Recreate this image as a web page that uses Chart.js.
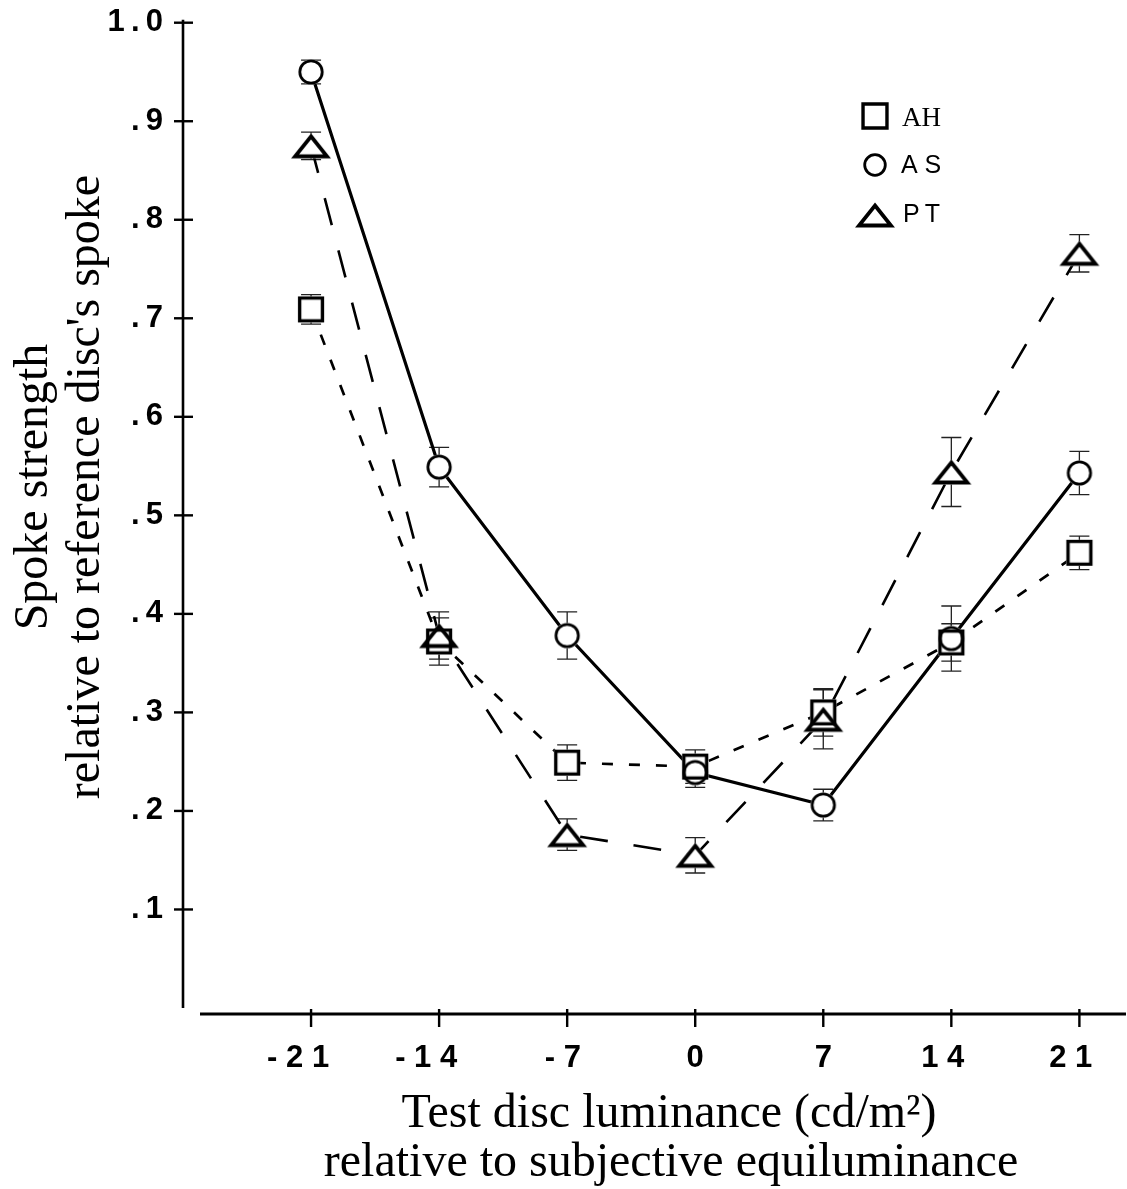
<!DOCTYPE html>
<html>
<head>
<meta charset="utf-8">
<script src="https://cdn.jsdelivr.net/npm/chart.js@4.4.0/dist/chart.umd.min.js"></script>
<style>
    html, body { margin: 0; padding: 0; background: #fff; }
    #wrap { width: 1127px; height: 1189px; position: relative; }
</style>
</head>
<body>
<div id="wrap"><canvas id="spokeChart"></canvas></div>
<script>
// Data
const xValues = [-21, -14, -7, 0, 7, 14, 21];
// trailing spaces reproduce the slightly left-shifted labels of the original
const xTickLabels = ['- 2 1   ', '- 1 4   ', '- 7 ', '0', '7', '1 4  ', '2 1  '];
const yTickValues = [0.1, 0.2, 0.3, 0.4, 0.5, 0.6, 0.7, 0.8, 0.9, 1.0];
const yTickLabels = ['.\u20091', '.\u20092', '.\u20093', '.\u20094', '.\u20095',
                     '.\u20096', '.\u20097', '.\u20098', '.\u20099', '1\u2009.\u20090'];

const ahValues = [0.709, 0.372, 0.249, 0.245, 0.300, 0.371, 0.462];
const ahErrors = [0.015, 0.024, 0.018, 0.017, 0.024, 0.019, 0.017];
const asValues = [0.950, 0.549, 0.378, 0.239, 0.206, 0.375, 0.543];
const asErrors = [0.012, 0.020, 0.024, 0.015, 0.016, 0.033, 0.022];
const ptValues = [0.875, 0.378, 0.176, 0.155, 0.293, 0.544, 0.766];
const ptErrors = [0.014, 0.024, 0.016, 0.018, 0.030, 0.035, 0.019];

const seriesNames = ['AH', 'AS', 'PT'];

const TICK_FONT = { family: "'Liberation Sans', Arial, sans-serif", size: 31, weight: 'bold' };
const SERIF = "'Liberation Serif', 'Times New Roman', serif";

function points(values) {
    return values.map((v, i) => ({ x: xValues[i], y: v }));
}

// marker images: 'fill' = white blanking shape, 'line' = black outline
function makeMarker(shape, mode, scale) {
    scale = scale || 1;
    const c = document.createElement('canvas');
    const w = shape === 'triangle' ? 44 : 32;
    const h = 32;
    c.width = w; c.height = h;
    const g = c.getContext('2d');
    g.lineJoin = 'miter';
    g.beginPath();
    if (shape === 'circle') {
        g.arc(w / 2, h / 2, 11.2 * scale, 0, Math.PI * 2);
        g.lineWidth = 2.8;
    } else if (shape === 'square') {
        const s = 11.4 * scale;
        g.rect(w / 2 - s, h / 2 - s, 2 * s, 2 * s);
        g.lineWidth = 3.4;
    } else {
        g.moveTo(w / 2, h / 2 - 9.5 * scale);
        g.lineTo(w / 2 + 16 * scale, h / 2 + 10.5 * scale);
        g.lineTo(w / 2 - 16 * scale, h / 2 + 10.5 * scale);
        g.closePath();
        g.lineWidth = 3.8;
    }
    if (mode === 'fill') {
        g.fillStyle = '#fff';
        g.strokeStyle = '#fff';
        g.fill();
        g.stroke();
    } else {
        g.strokeStyle = '#000';
        g.stroke();
    }
    return c;
}

const shapes = ['square', 'circle', 'triangle'];
const fillMarkers = shapes.map(s => makeMarker(s, 'fill'));
const lineMarkers = shapes.map(s => makeMarker(s, 'line'));
const legendMarkers = [makeMarker('square', 'line', 1.05), makeMarker('circle', 'line', 0.92), makeMarker('triangle', 'line', 1.0)];

const allValues = [ahValues, asValues, ptValues];
const allErrors = [ahErrors, asErrors, ptErrors];
const lineStyles = [
    { borderWidth: 2.7, borderDash: [11, 16] },
    { borderWidth: 3.2, borderDash: [] },
    { borderWidth: 2.6, borderDash: [28, 26] }
];

const datasets = [];
allValues.forEach((vals, k) => {
    // connecting line
    datasets.push({
        label: seriesNames[k],
        data: points(vals),
        borderColor: '#000',
        borderWidth: lineStyles[k].borderWidth,
        borderDash: lineStyles[k].borderDash,
        pointRadius: 0,
        fill: false,
        tension: 0,
        order: 3
    });
    // white blank behind markers so lines stop at the marker edge
    datasets.push({
        label: seriesNames[k] + ' blank',
        data: points(vals),
        showLine: false,
        pointStyle: fillMarkers[k],
        pointRadius: 10,
        order: 2
    });
    // marker outline
    datasets.push({
        label: seriesNames[k] + ' marker',
        data: points(vals),
        showLine: false,
        pointStyle: lineMarkers[k],
        pointRadius: 10,
        order: 1
    });
});

const figurePlugin = {
    id: 'figure',
    beforeDatasetsDraw(chart) {
        // error bars, under everything else
        const ctx = chart.ctx;
        const xs = chart.scales.x, ys = chart.scales.y;
        ctx.save();
        ctx.strokeStyle = '#222';
        ctx.lineWidth = 1.3;
        allValues.forEach((vals, k) => {
            vals.forEach((v, i) => {
                const e = allErrors[k][i];
                const px = xs.getPixelForValue(xValues[i]);
                const top = ys.getPixelForValue(v + e);
                const bot = ys.getPixelForValue(v - e);
                ctx.beginPath();
                ctx.moveTo(px, top); ctx.lineTo(px, bot);
                ctx.moveTo(px - 10, top); ctx.lineTo(px + 10, top);
                ctx.moveTo(px - 10, bot); ctx.lineTo(px + 10, bot);
                ctx.stroke();
            });
        });
        ctx.restore();
    },
    afterDraw(chart) {
        const ctx = chart.ctx;
        const xs = chart.scales.x, ys = chart.scales.y;
        const area = chart.chartArea;
        ctx.save();
        ctx.strokeStyle = '#000';
        ctx.lineCap = 'butt';

        // y axis line and ticks
        ctx.lineWidth = 2.6;
        ctx.beginPath();
        ctx.moveTo(area.left, ys.getPixelForValue(1) - 3);
        ctx.lineTo(area.left, ys.getPixelForValue(0));
        ctx.stroke();
        ctx.lineWidth = 2.4;
        yTickValues.forEach(v => {
            const py = ys.getPixelForValue(v);
            ctx.beginPath();
            ctx.moveTo(area.left - 9, py);
            ctx.lineTo(area.left + 10, py);
            ctx.stroke();
        });

        // detached x axis line and ticks
        const axisY = area.bottom + 6;
        ctx.lineWidth = 2.8;
        ctx.beginPath();
        ctx.moveTo(area.left + 17, axisY);
        ctx.lineTo(chart.width - 1, axisY);
        ctx.stroke();
        ctx.lineWidth = 2.4;
        xValues.forEach(v => {
            const px = xs.getPixelForValue(v);
            ctx.beginPath();
            ctx.moveTo(px, axisY - 5);
            ctx.lineTo(px, axisY + 13);
            ctx.stroke();
        });

        // axis titles
        ctx.fillStyle = '#000';
        ctx.font = '48px ' + SERIF;
        ctx.textAlign = 'center';
        ctx.textBaseline = 'alphabetic';
        ctx.fillText('Test disc luminance (cd/m\u00B2)', 669, 1127);
        ctx.fillText('relative to subjective equiluminance', 671, 1176);

        ctx.save();
        ctx.translate(0, 487);
        ctx.rotate(-Math.PI / 2);
        ctx.fillText('Spoke strength', 0, 47);
        ctx.fillText("relative to reference disc's spoke", 0, 99);
        ctx.restore();

        // legend
        const legendY = [116, 165, 215];
        legendMarkers.forEach((m, k) => {
            ctx.drawImage(m, 875 - m.width / 2, legendY[k] - m.height / 2);
        });
        ctx.textAlign = 'left';
        ctx.font = '27px ' + SERIF;
        ctx.fillText('AH', 902, 126);
        ctx.font = "25px 'Liberation Sans', Arial, sans-serif";
        ctx.fillText('A S', 901, 173);
        ctx.fillText('P\u2009T', 903, 222);
        ctx.restore();
    }
};

new Chart(document.getElementById('spokeChart').getContext('2d'), {
    type: 'line',
    data: { datasets: datasets },
    plugins: [figurePlugin],
    options: {
        responsive: true,
        maintainAspectRatio: false,
        animation: false,
        events: [],
        layout: {
            padding: { top: 22.7, right: 22, left: 0, bottom: 0 }
        },
        plugins: {
            legend: { display: false },
            tooltip: { enabled: false }
        },
        scales: {
            x: {
                type: 'linear',
                position: 'bottom',
                min: -28,
                max: 22.4,
                grid: { display: false, drawTicks: false },
                border: { display: false },
                afterBuildTicks: scale => {
                    scale.ticks = xValues.map(v => ({ value: v }));
                },
                afterFit: scale => {
                    scale.height = 181;
                    scale.paddingLeft = 0;
                    scale.paddingRight = 0;
                },
                ticks: {
                    autoSkip: false,
                    maxRotation: 0,
                    padding: 32,
                    color: '#000',
                    font: TICK_FONT,
                    callback: (value, index) => xTickLabels[index]
                }
            },
            y: {
                type: 'linear',
                min: 0,
                max: 1,
                grid: { display: false, drawTicks: false },
                border: { display: false },
                afterBuildTicks: scale => {
                    scale.ticks = yTickValues.map(v => ({ value: v }));
                },
                afterFit: scale => {
                    scale.width = 183;
                    scale.paddingTop = 0;
                    scale.paddingBottom = 0;
                },
                ticks: {
                    padding: 20,
                    color: '#000',
                    font: TICK_FONT,
                    callback: (value, index) => yTickLabels[index]
                }
            }
        }
    }
});
</script>
</body>
</html>
